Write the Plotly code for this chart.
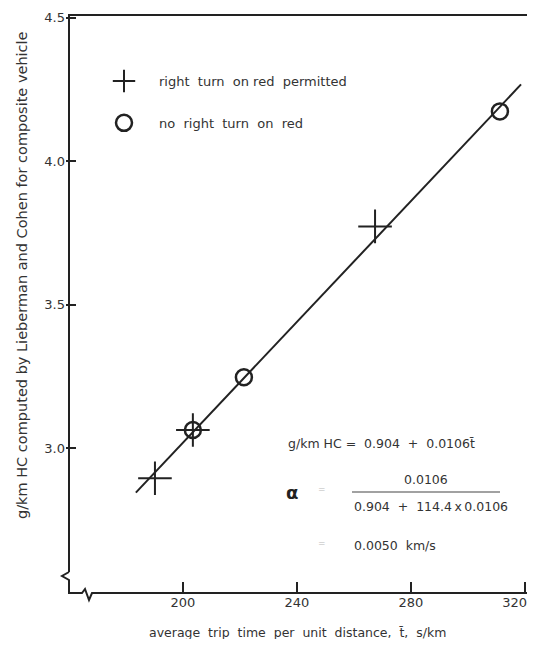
import plotly.graph_objects as go

# data
rtor_x = [190.2, 203.5, 267.4]
rtor_y = [2.895, 3.063, 3.773]
no_rtor_x = [203.5, 221.4, 311.2]
no_rtor_y = [3.063, 3.247, 4.174]
fit_x = [183.5, 318.6]
fit_y = [2.845, 4.268]

x_ticks = [200, 240, 280, 320]
x_tick_labels = ["200", "240", "280", "320" + "\u00a0" * 5]
y_ticks = [3.0, 3.5, 4.0, 4.5]
y_tick_labels = ["3.0", "3.5", "4.0", "4.5"]

FONT = "DejaVu Sans, sans-serif"
INK = "#222"
TXT = "#333"
nb = "\u00a0"
th = "\u2009"

fig = go.Figure()
fig.add_trace(go.Scatter(x=fit_x, y=fit_y, mode="lines",
                         line=dict(color=INK, width=2), showlegend=False, hoverinfo="skip"))
fig.add_trace(go.Scatter(x=rtor_x, y=rtor_y, mode="markers",
                         name=f"right{nb}{nb}turn{nb}{nb}on{nb}red{nb}{nb}permitted",
                         legendgroup="a",
                         marker=dict(symbol="cross-thin", size=24, line=dict(color=INK, width=2), color=INK)))
fig.add_trace(go.Scatter(x=no_rtor_x, y=no_rtor_y, mode="markers",
                         name=f"no{nb}{nb}right{nb}{nb}turn{nb}{nb}on{nb}{nb}red",
                         legendgroup="b",
                         marker=dict(symbol="circle-open", size=16, line=dict(color=INK, width=2.5), color=INK)))

# page offset: the page body adds an 8 px margin
O = 8
PW, PH = 535, 647
W, H = PW - O, PH - 2 * O
L, R, T = 66 - O, 6, 15 - O
B = H - (593 - O)

pw, ph = W - L - R, H - T - B

def px(x):  # page pixel -> paper
    return (x - O - L) / pw

def py(y):
    return (H - B - (y - O)) / ph

# frame with axis breaks (paper coords)
frame = (f"M {px(69)},{py(572)} L {px(69)},{py(15)} L {px(528)},{py(15)} L {px(528)},{py(593)} "
         f"L {px(92)},{py(593)} L {px(89)},{py(600)} L {px(85)},{py(589)} L {px(82)},{py(593)} "
         f"L {px(69)},{py(593)} L {px(69)},{py(580)} L {px(62)},{py(576)} L {px(69)},{py(572)}")
shapes = [
    dict(type="path", xref="paper", yref="paper", path=frame, line=dict(color=INK, width=2)),
    dict(type="line", xref="paper", yref="paper", x0=px(352), x1=px(500), y0=py(492), y1=py(492),
         line=dict(color="#444", width=1.2)),
]

ann = []
def add(text, x, y, size=13, anchor="left", color=TXT, bold=False, angle=0):
    ann.append(dict(text=f"<b>{text}</b>" if bold else text, x=px(x), y=py(y), xref="paper", yref="paper",
                    xanchor=anchor, yanchor="middle", showarrow=False, textangle=angle,
                    font=dict(family=FONT, size=size, color=color)))

add(f"g/km{nb}HC{nb}={nb}{nb}0.904{nb}{nb}+{nb}{nb}0.0106t\u0304", 286, 444, size=12.5)
add("α", 284, 492, size=18, color=INK, bold=True)
add("=", 322, 489, size=9, anchor="center", color="#bbb")
add("0.0106", 426, 479, size=12.5, anchor="center")
add(f"0.904{nb}{nb}+{nb}{nb}114.4{th}x{th}0.0106", 352, 507, size=12.5)
add("=", 322, 543, size=9, anchor="center", color="#bbb")
add(f"0.0050{nb}{nb}km/s", 352, 545, size=12.5)
add(f"average{nb}{nb}trip{nb}{nb}time{nb}{nb}per{nb}{nb}unit{nb}{nb}distance,{nb}{nb}t\u0304,{nb}{nb}s/km",
    297, 632, size=12.5, anchor="center")
add("g/km HC computed by Lieberman and Cohen for composite vehicle", 22, 275,
    size=14.5, anchor="center", angle=-90)

fig.update_layout(
    width=W, height=H,
    margin=dict(l=L, r=R, t=T, b=B),
    paper_bgcolor="white", plot_bgcolor="white",
    font=dict(family=FONT, size=13, color=TXT),
    shapes=shapes, annotations=ann,
    showlegend=True,
    legend=dict(x=px(89), y=py(66), xanchor="left", yanchor="top",
                bgcolor="rgba(0,0,0,0)", tracegroupgap=22, traceorder="grouped",
                itemwidth=60, font=dict(family=FONT, size=13, color=TXT)),
    xaxis=dict(range=[159, 321.4], tickvals=x_ticks, ticktext=x_tick_labels, ticks="inside",
               ticklen=11, tickwidth=2, automargin=False, ticklabeloverflow="allow",
               tickcolor=INK, showgrid=False, zeroline=False, showline=False,
               tickfont=dict(size=13, color=TXT)),
    yaxis=dict(range=[2.495, 4.51], tickvals=y_ticks, ticktext=y_tick_labels, ticks="inside",
               ticklen=10, tickwidth=2, tickcolor=INK, showgrid=False, zeroline=False, showline=False,
               automargin=False, ticklabeloverflow="allow",
               tickfont=dict(size=13, color=TXT)),
)

fig.write_html("out.html")
